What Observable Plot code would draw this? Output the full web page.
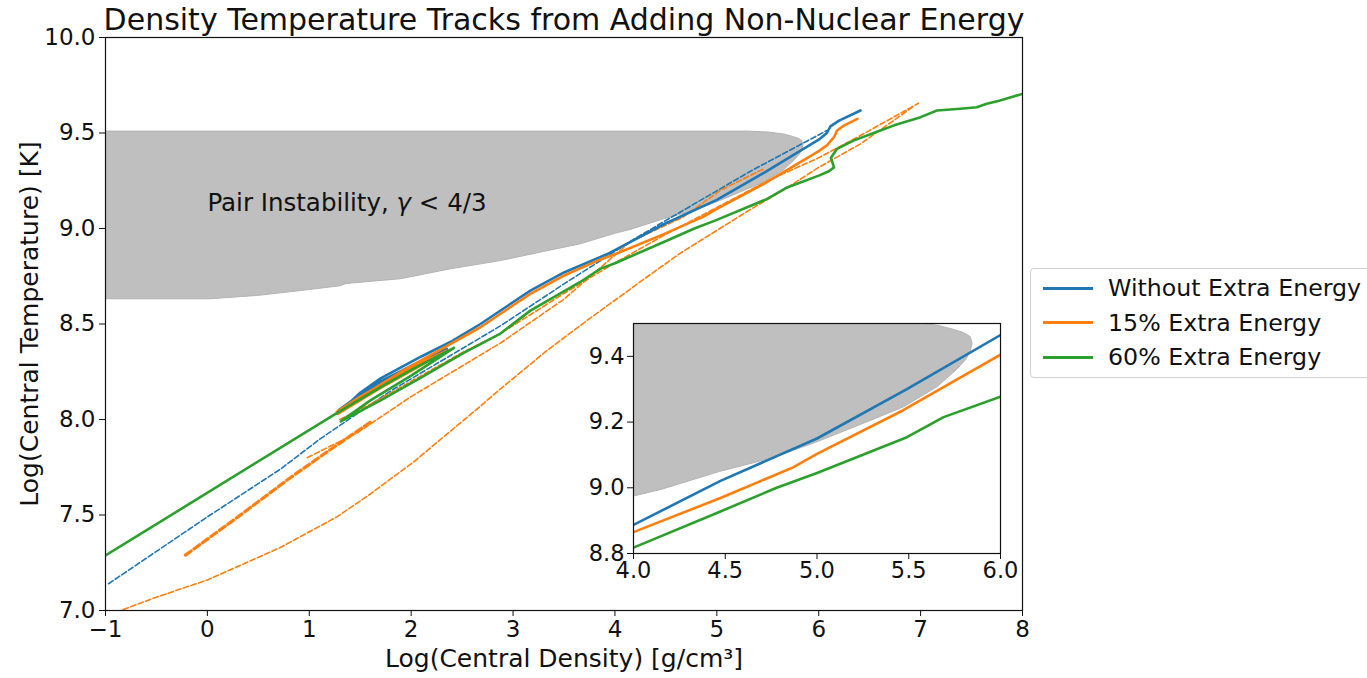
<!DOCTYPE html>
<html>
<head>
<meta charset="utf-8">
<script src="https://cdn.jsdelivr.net/npm/d3@7"></script>
<script src="https://cdn.jsdelivr.net/npm/@observablehq/plot@0.6"></script>
<style>
  html, body { margin: 0; padding: 0; background: white; overflow: hidden; }
  #wrap { position: relative; width: 1367px; height: 678px; font-family: "DejaVu Sans", sans-serif; }
  #main, #inset { position: absolute; }
  #main { left: 0; top: 0; }
  #inset { left: 573px; top: 313px; }
  #legend { position: absolute; left: 1030px; top: 268px; width: 345px; height: 110px;
    border: 1px solid #d0d0d0; border-radius: 4px; background: white; box-sizing: border-box; }
  .lg-row { position: absolute; left: 12px; height: 30px; display: flex; align-items: center; }
  .lg-swatch { width: 50px; height: 3px; margin-right: 15px; }
  .lg-text { font-size: 23.7px; color: #111; white-space: nowrap; }
</style>
</head>
<body>
<div id="wrap">
  <div id="main"></div>
  <div id="inset"></div>
  <div id="legend"></div>
</div>
<script>
// ---------- data ----------
const seriesNames = ["Without Extra Energy", "15% Extra Energy", "60% Extra Energy"];
const seriesColors = ["#1f77b4", "#ff7f0e", "#2ca02c"];

const titleText = "Density Temperature Tracks from Adding Non-Nuclear Energy";
const xLabel = "Log(Central Density) [g/cm³]";
const yLabel = "Log(Central Temperature) [K]";
const annotation = "Pair Instability, γ < 4/3";

const xTicks = [-1, 0, 1, 2, 3, 4, 5, 6, 7, 8];
const yTicks = [7.0, 7.5, 8.0, 8.5, 9.0, 9.5, 10.0];
const insetXTicks = [4.0, 4.5, 5.0, 5.5, 6.0];
const insetYTicks = [8.8, 9.0, 9.2, 9.4];

// pair-instability region boundary (log rho, log T)
const pairX = [-1.1, 0.03, 0.5, 0.914, 1.3, 1.36, 1.895, 2.386, 2.876, 3.3, 3.66, 4.0, 4.15, 4.47, 4.75, 5.0, 5.29, 5.47, 5.655, 5.76, 5.81, 5.835, 5.845, 5.835, 5.8, 5.745, 5.655, 5.5, 5.3, -1.1];
const pairT = [8.632, 8.632, 8.65, 8.675, 8.70, 8.712, 8.737, 8.789, 8.832, 8.88, 8.92, 8.975, 8.995, 9.05, 9.09, 9.14, 9.205, 9.246, 9.308, 9.36, 9.39, 9.415, 9.44, 9.46, 9.472, 9.482, 9.495, 9.505, 9.51, 9.51];

// solid tracks
const blueX = [1.29, 1.5, 1.7, 2.0, 2.35, 2.0, 1.7, 1.30, 1.5, 1.7, 2.1, 2.4, 2.68, 3.17, 3.5, 3.92, 4.0, 4.474, 5.0, 5.49, 6.0, 6.08, 6.115, 6.2, 6.41];
const blueT = [8.05, 8.13, 8.2, 8.28, 8.37, 8.265, 8.185, 8.04, 8.14, 8.215, 8.33, 8.41, 8.50, 8.675, 8.77, 8.865, 8.887, 9.021, 9.15, 9.30, 9.465, 9.50, 9.535, 9.565, 9.618];

const orangeX = [1.27, 1.5, 1.7, 2.0, 2.35, 2.0, 1.7, 1.28, 1.6, 1.9, 2.3, 2.68, 3.17, 3.5, 3.83, 4.0, 4.474, 4.87, 5.0, 5.47, 6.0, 6.08, 6.15, 6.18, 6.25, 6.38];
const orangeT = [8.04, 8.12, 8.18, 8.27, 8.36, 8.255, 8.165, 8.03, 8.15, 8.25, 8.37, 8.483, 8.658, 8.754, 8.832, 8.865, 8.969, 9.062, 9.103, 9.236, 9.405, 9.435, 9.478, 9.513, 9.54, 9.574];

const greenX = [-1.0, 1.29, 1.7, 2.0, 2.42, 2.0, 1.6, 1.31, 1.7, 2.1, 2.52, 2.876, 3.17, 3.66, 3.86, 4.0, 4.474, 4.78, 5.0, 5.49, 5.69, 6.0, 6.1, 6.15, 6.12, 6.18, 6.34, 6.54, 6.74, 7.0, 7.16, 7.39, 7.55, 7.65, 7.78, 8.0];
const greenT = [7.288, 8.04, 8.17, 8.26, 8.375, 8.23, 8.10, 7.99, 8.10, 8.22, 8.35, 8.45, 8.57, 8.72, 8.79, 8.818, 8.928, 9.0, 9.045, 9.154, 9.215, 9.277, 9.30, 9.32, 9.37, 9.417, 9.46, 9.50, 9.54, 9.583, 9.618, 9.627, 9.635, 9.653, 9.67, 9.705];

// dashed tracks
const blueDashX = [-0.97, 0.0, 0.717, 1.11, 1.8, 2.876, 3.5, 4.22, 5.33, 6.08];
const blueDashT = [7.14, 7.49, 7.74, 7.90, 8.15, 8.49, 8.71, 8.955, 9.30, 9.513];

const orangeDash1X = [-0.9, -0.5, 0.0, 0.717, 1.27, 1.6, 1.8, 2.03, 2.32, 2.68, 2.876, 3.33, 3.73, 4.35, 4.64, 5.0, 5.33, 5.65, 6.0, 6.41, 6.92];
const orangeDash1T = [6.99, 7.07, 7.16, 7.33, 7.49, 7.61, 7.69, 7.78, 7.91, 8.07, 8.16, 8.36, 8.52, 8.76, 8.87, 8.99, 9.10, 9.20, 9.32, 9.443, 9.635];

const orangeDash2X = [1.30, 1.6, 2.0, 2.5, 2.876, 3.5, 4.0, 4.5, 5.0, 5.5, 6.0, 6.41, 6.98];
const orangeDash2T = [8.00, 8.08, 8.20, 8.35, 8.45, 8.66, 8.82, 8.97, 9.11, 9.25, 9.37, 9.487, 9.656];

const orangeDash3X = [0.98, 1.47, 2.0, 2.5, 2.876, 3.5, 4.15, 4.67, 5.035, 5.3, 5.45];
const orangeDash3T = [7.80, 7.93, 8.12, 8.28, 8.40, 8.63, 8.93, 9.06, 9.20, 9.27, 9.31];

const orangeDash4X = [-0.215, 0.3, 0.8, 1.2, 1.6];
const orangeDash4T = [7.29, 7.49, 7.69, 7.84, 7.986];

// ---------- build ----------
const zip = (xs, ys) => xs.map((x, i) => ({x, y: ys[i]}));
const pair = zip(pairX, pairT);
const solids = [zip(blueX, blueT), zip(orangeX, orangeT), zip(greenX, greenT)];
const dashed = [
  {d: zip(blueDashX, blueDashT), c: 0, w: 1.6, dash: "5.5,2.5"},
  {d: zip(orangeDash1X, orangeDash1T), c: 1, w: 1.6, dash: "5.5,2.5"},
  {d: zip(orangeDash2X, orangeDash2T), c: 1, w: 1.6, dash: "5.5,2.5"},
  {d: zip(orangeDash3X, orangeDash3T), c: 1, w: 1.6, dash: "5.5,2.5"},
  {d: zip(orangeDash4X, orangeDash4T), c: 1, w: 3.2, dash: "7,3.5"}
];
const minus = d => (d < 0 ? "\u2212" + Math.abs(d) : String(d));
const f1 = d3.format(".1f");

function trackMarks(withDashed) {
  const m = [];
  m.push(Plot.line(pair, {x: "x", y: "y", fill: "#bfbfbf", stroke: "#b3b3b3", strokeWidth: 1, clip: true}));
  if (withDashed) {
    for (const t of dashed) {
      m.push(Plot.line(t.d, {x: "x", y: "y", stroke: seriesColors[t.c], strokeWidth: t.w, strokeDasharray: t.dash, clip: true}));
    }
  }
  solids.forEach((s, i) => {
    m.push(Plot.line(s, {x: "x", y: "y", stroke: seriesColors[i], strokeWidth: 2.6, curve: "linear", clip: true}));
  });
  return m;
}

const mainPlot = Plot.plot({
  width: 1367, height: 678,
  marginLeft: 105, marginRight: 345, marginTop: 37, marginBottom: 68,
  style: {fontFamily: "DejaVu Sans", fontSize: "23px", color: "#111", background: "transparent"},
  x: {domain: [-1, 8]},
  y: {domain: [7, 10]},
  marks: [
    ...trackMarks(true),
    Plot.text([annotation], {x: 0, y: 9.135, text: d => d, textAnchor: "start", fontSize: 24.5, fill: "#111"}),
    Plot.frame({stroke: "#111", strokeWidth: 1.2}),
    Plot.axisX(xTicks, {tickSize: 6, tickPadding: 4, fontSize: 23, tickFormat: minus, label: null}),
    Plot.axisY(yTicks, {tickSize: 6, tickPadding: 4, fontSize: 23, tickFormat: f1, label: null}),
    Plot.text([xLabel], {frameAnchor: "bottom", dy: 56, fontSize: 25, fill: "#111"}),
    Plot.text([yLabel], {frameAnchor: "left", textAnchor: "middle", dx: -76, rotate: -90, fontSize: 25, fill: "#111"}),
    Plot.text([titleText], {frameAnchor: "top", lineAnchor: "middle", dy: -17, fontSize: 30, fill: "#111"})
  ]
});
document.getElementById("main").appendChild(mainPlot);

// italic gamma in the annotation (mathtext style)
d3.select(mainPlot).selectAll("text").each(function () {
  const t = this.textContent;
  if (t === annotation) {
    const i = t.indexOf("γ");
    const sel = d3.select(this);
    sel.text(null);
    sel.append("tspan").text(t.slice(0, i));
    sel.append("tspan").attr("font-style", "italic").text("γ");
    sel.append("tspan").text(t.slice(i + 1));
  }
});

const insetPlot = Plot.plot({
  width: 367 + 60 + 24, height: 230 + 10 + 40,
  marginLeft: 60, marginRight: 24, marginTop: 10, marginBottom: 40,
  style: {fontFamily: "DejaVu Sans", fontSize: "22px", color: "#111", background: "transparent"},
  x: {domain: [4, 6]},
  y: {domain: [8.8, 9.5]},
  marks: [
    Plot.frame({fill: "white"}),
    ...trackMarks(false),
    Plot.frame({stroke: "#111", strokeWidth: 1.2}),
    Plot.axisX(insetXTicks, {tickSize: 6, tickPadding: 3, fontSize: 22.5, tickFormat: f1, label: null}),
    Plot.axisY(insetYTicks, {tickSize: 6, tickPadding: 3, fontSize: 22.5, tickFormat: f1, label: null})
  ]
});
document.getElementById("inset").appendChild(insetPlot);

// legend
const lg = document.getElementById("legend");
seriesNames.forEach((name, i) => {
  const row = document.createElement("div");
  row.className = "lg-row";
  row.style.top = (4 + i * 34.5) + "px";
  const sw = document.createElement("div");
  sw.className = "lg-swatch";
  sw.style.background = seriesColors[i];
  const tx = document.createElement("div");
  tx.className = "lg-text";
  tx.textContent = name;
  row.appendChild(sw); row.appendChild(tx);
  lg.appendChild(row);
});
</script>
</body>
</html>
